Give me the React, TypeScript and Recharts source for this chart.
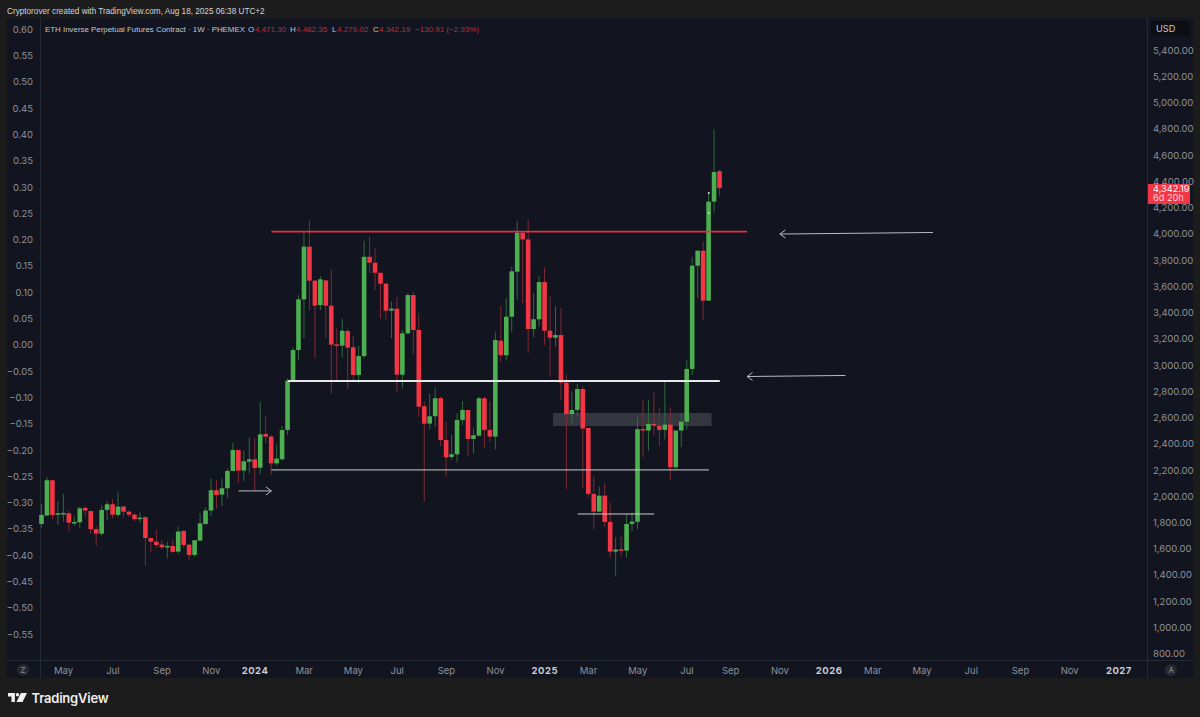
import {
  ComposedChart,
  Bar,
  XAxis,
  YAxis,
  ReferenceLine,
  ReferenceArea,
  ReferenceDot,
} from "recharts";

// weekly candles (USD)
const opens = [
  1782, 1846, 2115, 1858, 1861, 1863, 1792, 1795, 1904, 1881,
  1742, 1708, 1889, 1932, 1851, 1914, 1876, 1853, 1820, 1833,
  1675, 1647, 1625, 1609, 1614, 1571, 1729, 1625, 1546, 1655,
  1782, 1884, 2039, 2006, 2054, 2186, 2346, 2189, 2257, 2275,
  2211, 2468, 2448, 2244, 2275, 2499, 2875, 3108, 3494, 3896,
  3637, 3451, 3639, 3446, 3151, 3141, 3253, 3129, 2918, 3062,
  3819, 3774, 3697, 3614, 3408, 3423, 2920, 3235, 3527, 3261,
  2679, 2547, 2603, 2742, 2422, 2293, 2313, 2575, 2651, 2430,
  2455, 2740, 2499, 2448, 3179, 3068, 3362, 3705, 4002, 3951,
  3268, 3342, 3626, 3255, 3202, 3222, 2859, 2620, 2651, 2811,
  2514, 2011, 1876, 1998, 1798, 1571, 1589, 1579, 1782, 1798,
  2506, 2494, 2545, 2529, 2499, 2539, 2214, 2494, 2562, 2964,
  3751, 3865, 3484, 4239, 4471,
];
const highs = [
  1934, 2138, 2115, 1957, 2011, 1884, 1841, 1914, 1914, 1881,
  1767, 1924, 1957, 1970, 2023, 1924, 1884, 1863, 1868, 1841,
  1675, 1736, 1660, 1647, 1665, 1762, 1731, 1625, 1658, 1863,
  1909, 2130, 2117, 2130, 2206, 2402, 2346, 2341, 2442, 2435,
  2714, 2605, 2460, 2387, 2529, 2892, 3129, 3527, 4002, 4099,
  3637, 3672, 3639, 3723, 3273, 3349, 3273, 3215, 3139, 3941,
  3972, 3883, 3697, 3614, 3476, 3510, 3261, 3540, 3553, 3388,
  2715, 2773, 2816, 2753, 2562, 2460, 2626, 2720, 2651, 2511,
  2753, 2753, 2715, 3248, 3443, 3502, 3743, 4091, 4002, 4104,
  3540, 3672, 3738, 3520, 3443, 3426, 2918, 2791, 2849, 2829,
  2514, 2148, 2067, 2092, 1945, 1681, 1686, 1851, 1869, 2600,
  2732, 2727, 2783, 2664, 2867, 2672, 2494, 2626, 3032, 3815,
  3865, 3934, 4315, 4790, 4482,
];
const lows = [
  1757, 1846, 1820, 1777, 1800, 1729, 1767, 1754, 1838, 1706,
  1614, 1693, 1813, 1825, 1838, 1838, 1833, 1802, 1795, 1465,
  1571, 1597, 1589, 1520, 1559, 1554, 1597, 1508, 1533, 1650,
  1775, 1846, 1899, 1919, 1978, 2181, 2097, 2110, 2168, 2036,
  2163, 2397, 2158, 2227, 2265, 2461, 2867, 3032, 3197, 3413,
  3045, 3413, 3197, 2773, 2867, 3052, 2808, 2880, 2854, 3045,
  3697, 3565, 3349, 3337, 3197, 2791, 2816, 3230, 3078, 2600,
  1953, 2504, 2524, 2377, 2143, 2270, 2250, 2537, 2300, 2321,
  2448, 2367, 2410, 2351, 3012, 3027, 3248, 3494, 3464, 3088,
  3205, 3286, 3146, 2905, 3134, 2727, 2049, 2544, 2595, 2054,
  1986, 1742, 1876, 1762, 1528, 1381, 1533, 1528, 1724, 1742,
  2291, 2341, 2461, 2377, 2428, 2118, 2189, 2367, 2504, 2918,
  3502, 3337, 3484, 4155, 4279,
];
const closes = [
  1851, 2115, 1851, 1863, 1866, 1792, 1797, 1901, 1884, 1742,
  1708, 1889, 1932, 1853, 1914, 1876, 1853, 1818, 1830, 1675,
  1647, 1622, 1604, 1614, 1569, 1724, 1622, 1546, 1658, 1787,
  1884, 2039, 2003, 2054, 2186, 2346, 2189, 2260, 2275, 2209,
  2465, 2448, 2244, 2280, 2498, 2875, 3108, 3494, 3896, 3637,
  3446, 3647, 3446, 3149, 3146, 3255, 3126, 2918, 3062, 3819,
  3774, 3697, 3614, 3408, 3423, 2920, 3235, 3527, 3261, 2676,
  2547, 2603, 2740, 2422, 2290, 2313, 2575, 2651, 2430, 2458,
  2740, 2499, 2448, 3184, 3068, 3362, 3708, 4002, 3951, 3268,
  3342, 3626, 3255, 3202, 3222, 2859, 2620, 2651, 2811, 2509,
  2011, 1876, 1998, 1798, 1571, 1587, 1577, 1782, 1800, 2504,
  2494, 2545, 2532, 2499, 2539, 2214, 2494, 2562, 2964, 3751,
  3865, 3484, 4239, 4465, 4342,
];

const SLOTS = 203;
const usdTicks = [
  800, 1000, 1200, 1400, 1600, 1800, 2000, 2200, 2400, 2600, 2800, 3000, 3200,
  3400, 3600, 3800, 4000, 4200, 4400, 4600, 4800, 5000, 5200, 5400,
];
const inverseTicks = [
  0.6, 0.55, 0.5, 0.45, 0.4, 0.35, 0.3, 0.25, 0.2, 0.15, 0.1, 0.05, 0, -0.05,
  -0.1, -0.15, -0.2, -0.25, -0.3, -0.35, -0.4, -0.45, -0.5, -0.55,
];
const timeTickWeeks = [
  4, 13, 22, 31, 39, 48, 57, 65, 74, 83, 92, 100, 109, 118, 126, 135, 144, 152,
  161, 170, 179, 188, 197,
];
const timeTickLabels = [
  "May", "Jul", "Sep", "Nov", "2024", "Mar", "May", "Jul", "Sep", "Nov", "2025",
  "Mar", "May", "Jul", "Sep", "Nov", "2026", "Mar", "May", "Jul", "Sep", "Nov",
  "2027",
];

// drawn levels and arrows, [week, usd] pairs
const redLevel = [[42, 4011], [129, 4011]];
const whiteLevel = [[45, 2872], [124, 2872]];
const thinLevel = [[42, 2194], [122, 2194]];
const shortLevel = [[98, 1858], [112, 1858]];
const greyZone = { weeks: [94, 122], usd: [2529, 2628] };
const arrows = [
  [[163, 4004], [135, 3992]],
  [[136, 4023], [135, 3992]],
  [[136, 3962], [135, 3992]],
  [[147, 2914], [129, 2906]],
  [[130, 2937], [129, 2906]],
  [[130, 2876], [129, 2906]],
  [[36, 2034], [42, 2034]],
  [[41, 2064], [42, 2034]],
  [[41, 2003], [42, 2034]],
];
const tinyMarks = [[122, 4305], [122, 4152]];

const GREEN = "#4caf50";
const RED = "#f23645";
const GREEN_WICK = "#2f6a3d";
const RED_WICK = "#7d2a37";
const FONT = "Inter, 'Noto Sans', sans-serif";
const HEAD_FONT = "'Liberation Sans', sans-serif";

const rows = Array.from({ length: SLOTS }, (_, week) =>
  week < opens.length
    ? {
        week,
        open: opens[week],
        close: closes[week],
        high: highs[week],
        low: lows[week],
        range: [lows[week], highs[week]],
      }
    : { week },
);

const Candle = (props: any) => {
  const { x, y, width, height, payload } = props;
  if (payload.open === undefined || !height) return null;
  const up = payload.close >= payload.open;
  const perUsd = height / (payload.high - payload.low);
  const top = y + (payload.high - Math.max(payload.open, payload.close)) * perUsd;
  const bodyH = Math.abs(payload.close - payload.open) * perUsd;
  const mid = x + width / 2;
  return (
    <g>
      <line
        x1={mid}
        x2={mid}
        y1={y}
        y2={y + height}
        stroke={up ? GREEN_WICK : RED_WICK}
        strokeWidth={1}
      />
      <rect
        x={mid - 2.3}
        y={top}
        width={4.6}
        height={Math.max(bodyH, 1.5)}
        fill={up ? GREEN : RED}
      />
    </g>
  );
};

const TimeTick = (props: any) => {
  const { x, y, payload } = props;
  const label = timeTickLabels[timeTickWeeks.indexOf(payload.value)];
  const isYear = /^\d+$/.test(label);
  return (
    <text
      x={x}
      y={y + 6}
      textAnchor="middle"
      fontFamily={FONT}
      fontSize={9.5}
      fontWeight={isYear ? 700 : 400}
      letterSpacing={isYear ? 0.5 : 0}
      fill={isYear ? "#c9cbd0" : "#8f929b"}
    >
      {label}
    </text>
  );
};

const box = (left: number, top: number, width: number, height: number, extra = {}) => ({
  position: "absolute" as const,
  left,
  top,
  width,
  height,
  ...extra,
});

const label = (left: number, top: number, extra = {}) => ({
  position: "absolute" as const,
  left,
  top,
  fontFamily: HEAD_FONT,
  whiteSpace: "nowrap" as const,
  ...extra,
});

const segmentLine = (points: number[][], stroke: string, width: number, key: string) => (
  <ReferenceLine
    key={key}
    yAxisId="usd"
    segment={[
      { x: points[0][0], y: points[0][1] },
      { x: points[1][0], y: points[1][1] },
    ]}
    stroke={stroke}
    strokeWidth={width}
  />
);

const App = () => {
  return (
    <div style={box(0, 0, 1200, 717, { background: "#1c1c1c", overflow: "hidden", position: "fixed" })}>
      <div style={label(7, 6.5, { fontSize: 8.2, color: "#d4d4d4" })}>
        Cryptorover created with TradingView.com, Aug 18, 2025 06:38 UTC+2
      </div>

      <div style={box(7, 18, 1186, 660, { background: "#12151f" })} />
      <div style={box(40, 18, 1, 660, { background: "#262a35" })} />
      <div style={box(1147, 18, 1, 660, { background: "#262a35" })} />
      <div style={box(7, 660, 1186, 1, { background: "#262a35" })} />

      <div style={box(0, 0, 1200, 717)}>
        <ComposedChart
          width={1200}
          height={717}
          data={rows}
          barCategoryGap={0}
          margin={{ top: 18, right: 0, bottom: 0, left: 0 }}
        >
          <XAxis
            dataKey="week"
            type="category"
            ticks={timeTickWeeks}
            interval={0}
            height={57}
            axisLine={false}
            tickLine={false}
            tick={<TimeTick />}
          />
          <YAxis
            yAxisId="inverse"
            orientation="left"
            width={39}
            type="number"
            domain={[-0.5989, 0.6217]}
            allowDataOverflow
            ticks={inverseTicks}
            interval={0}
            axisLine={false}
            tickLine={false}
            tickSize={0}
            tickMargin={6}
            tickFormatter={(v: number) =>
              v < 0 ? "\u2212" + Math.abs(v).toFixed(2) : v.toFixed(2)
            }
            tick={{ fill: "#8f929b", fontSize: 9.5, fontFamily: FONT }}
          />
          <YAxis
            yAxisId="usd"
            orientation="right"
            width={51}
            type="number"
            domain={[745, 5639]}
            allowDataOverflow
            ticks={usdTicks}
            interval={0}
            axisLine={false}
            tickLine={false}
            tickSize={0}
            tickMargin={4}
            tickFormatter={(v: number) => v.toLocaleString("en-US") + ".00"}
            tick={{ fill: "#8f929b", fontSize: 9.5, fontFamily: FONT, dy: 1 }}
          />
          <ReferenceArea
            yAxisId="usd"
            x1={greyZone.weeks[0]}
            x2={greyZone.weeks[1]}
            y1={greyZone.usd[0]}
            y2={greyZone.usd[1]}
            fill="#ffffff"
            fillOpacity={0.15}
            stroke="none"
          />
          <Bar
            yAxisId="usd"
            dataKey="range"
            shape={<Candle />}
            isAnimationActive={false}
          />
          {segmentLine(redLevel, "#e03345", 1.7, "red")}
          {segmentLine(whiteLevel, "#e8e8e8", 1.8, "white")}
          {segmentLine(thinLevel, "#cfcfcf", 1, "thin")}
          {segmentLine(shortLevel, "#cfcfcf", 1, "short")}
          {arrows.map((a, i) => segmentLine(a, "#b8bac0", 1, "arrow" + i))}
          {tinyMarks.map((m, i) => (
            <ReferenceDot
              key={i}
              yAxisId="usd"
              x={m[0]}
              y={m[1]}
              r={1}
              fill="#d8d8d8"
              stroke="none"
            />
          ))}
        </ComposedChart>
      </div>

      <div style={label(45, 24.5, { fontSize: 7.9, color: "#c4c6cc" })}>
        ETH Inverse Perpetual Futures Contract · 1W · PHEMEX
      </div>
      <div style={label(248, 24.5, { fontSize: 8, color: "#c4c6cc" })}>O</div>
      <div style={label(255, 24.5, { fontSize: 8, color: "#b8303d" })}>4,471.30</div>
      <div style={label(290, 24.5, { fontSize: 8, color: "#c4c6cc" })}>H</div>
      <div style={label(296, 24.5, { fontSize: 8, color: "#b8303d" })}>4,482.35</div>
      <div style={label(332, 24.5, { fontSize: 8, color: "#c4c6cc" })}>L</div>
      <div style={label(337, 24.5, { fontSize: 8, color: "#b8303d" })}>4,279.02</div>
      <div style={label(373, 24.5, { fontSize: 8, color: "#c4c6cc" })}>C</div>
      <div style={label(379, 24.5, { fontSize: 8, color: "#b8303d" })}>4,342.19</div>
      <div style={label(415, 24.5, { fontSize: 8, color: "#b8303d" })}>−130.91 (−2.93%)</div>

      <div style={box(1151, 21, 39, 15, { background: "#0d0e12", borderRadius: 2 })} />
      <div style={label(1156, 23, { fontSize: 9.2, fontFamily: FONT, color: "#c8c8c8" })}>USD</div>

      <div style={box(1148, 184, 42, 20, { background: "#f23645", borderRadius: 1 })} />
      <div style={label(1153, 184, { fontSize: 9.2, fontFamily: FONT, color: "#ffffff", lineHeight: "9px" })}>
        4,342.19
      </div>
      <div style={label(1153, 193, { fontSize: 9.2, fontFamily: FONT, color: "#ffd5d9", lineHeight: "9px" })}>
        6d 20h
      </div>

      <div style={box(17, 664, 12, 12, { background: "#262932", borderRadius: 6 })} />
      <div style={label(20.5, 665, { fontSize: 8, fontFamily: FONT, color: "#8f929b" })}>Z</div>
      <div style={box(1165, 664, 12, 12, { background: "#262932", borderRadius: 6 })} />
      <div style={label(1168.5, 665, { fontSize: 8, fontFamily: FONT, color: "#8f929b" })}>A</div>

      <svg style={box(8, 692.5, 19, 9.5)} viewBox="0 0 22 11">
        <path d="M0 0H8V11H4V4H0Z" fill="#f0f0f0" />
        <circle cx="11" cy="2" r="2" fill="#f0f0f0" />
        <path d="M15 0H22L16.5 11H9.5Z" fill="#f0f0f0" />
      </svg>
      <div style={label(31.5, 690, { fontSize: 13, fontFamily: FONT, fontWeight: 600, color: "#efefef", letterSpacing: -0.2 })}>
        TradingView
      </div>
    </div>
  );
};

export default App;
